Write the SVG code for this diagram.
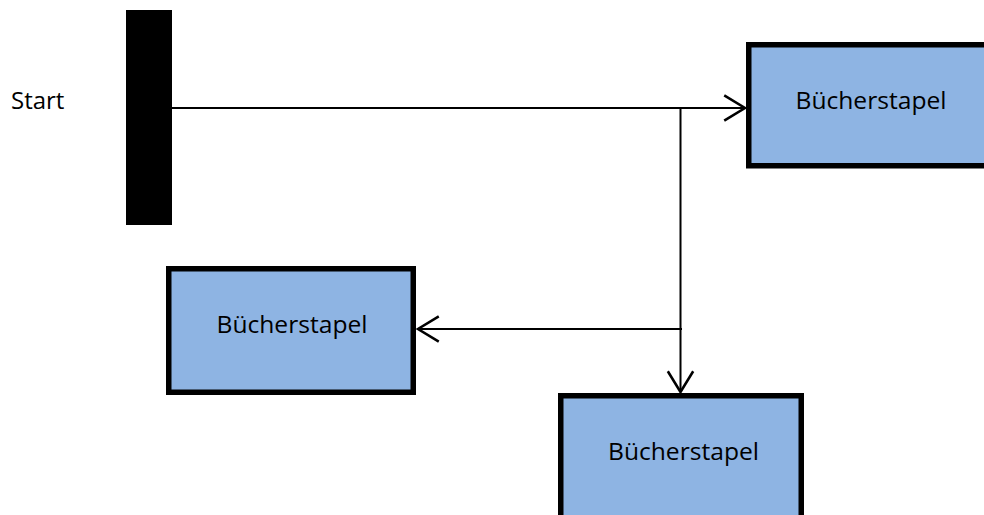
<svg xmlns="http://www.w3.org/2000/svg" width="984" height="515" viewBox="0 0 984 515">
  <style>
    .box { fill: #8EB4E3; stroke: #000000; stroke-width: 5.5; }
    .lbl { font-family: "Open Sans", "Liberation Sans", sans-serif; font-size: 23px; fill: #000000; text-anchor: middle; }
    .start { font-family: "Open Sans", "Liberation Sans", sans-serif; font-size: 24px; fill: #000000; }
    .conn { fill: none; stroke: #000000; stroke-width: 2; }
  </style>
  <defs>
    <marker id="arr" markerUnits="userSpaceOnUse" markerWidth="30" markerHeight="30" viewBox="-20 -13 22 26" refX="0" refY="0" orient="auto" overflow="visible">
      <path d="M -18 -11 L 0 0 L -18 11" fill="none" stroke="#000000" stroke-width="2.2"/>
    </marker>
  </defs>
  <rect width="984" height="515" fill="#ffffff"/>

  <g id="start">
    <rect x="126" y="10" width="46" height="215" fill="#000000"/>
    <text class="start" x="11" y="109">Start</text>
  </g>

  <g id="node-right">
    <rect class="box" x="748.75" y="44.75" width="244.5" height="121"/>
    <text class="lbl" x="871" y="109" textLength="151" lengthAdjust="spacingAndGlyphs">Bücherstapel</text>
  </g>

  <g id="node-left">
    <rect class="box" x="168.75" y="268.75" width="244.5" height="123.5"/>
    <text class="lbl" x="292" y="333" textLength="151" lengthAdjust="spacingAndGlyphs">Bücherstapel</text>
  </g>

  <g id="node-bottom">
    <rect class="box" x="560.75" y="395.75" width="240.5" height="130"/>
    <text class="lbl" x="683.5" y="460" textLength="151" lengthAdjust="spacingAndGlyphs">Bücherstapel</text>
  </g>

  <g id="connectors">
    <line class="conn" x1="172" y1="108" x2="745" y2="108" marker-end="url(#arr)"/>
    <line class="conn" x1="680.5" y1="108" x2="680.5" y2="392" marker-end="url(#arr)"/>
    <line class="conn" x1="682" y1="329" x2="418" y2="329" marker-end="url(#arr)"/>
  </g>
</svg>
